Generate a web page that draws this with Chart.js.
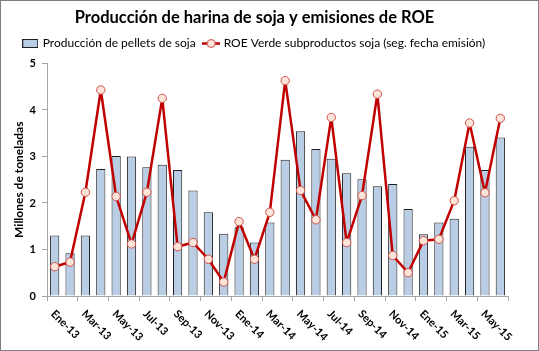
<!DOCTYPE html>
<html><head><meta charset="utf-8">
<script src="https://cdn.jsdelivr.net/npm/chart.js@4.4.0/dist/chart.umd.min.js"></script>
<style>
html,body{margin:0;padding:0;background:#fff;}
#wrap{position:absolute;left:0;top:0;width:539px;height:351px;box-sizing:border-box;border:1px solid #7f7f7f;background:#fff;}
canvas{display:block;}
</style></head><body>
<div id="wrap"><canvas id="c" width="537" height="349"></canvas></div>
<script>
const categories = ["Ene-13","Feb-13","Mar-13","Abr-13","May-13","Jun-13","Jul-13","Ago-13","Sep-13","Oct-13","Nov-13","Dic-13",
  "Ene-14","Feb-14","Mar-14","Abr-14","May-14","Jun-14","Jul-14","Ago-14","Sep-14","Oct-14","Nov-14","Dic-14",
  "Ene-15","Feb-15","Mar-15","Abr-15","May-15","Jun-15"];
const pelletsProduccion = [1.30,0.92,1.30,2.73,3.01,3.00,2.77,2.82,2.71,2.27,1.80,1.34,1.48,1.15,1.58,
  2.93,3.54,3.16,2.95,2.64,2.51,2.36,2.41,1.87,1.33,1.58,1.66,3.21,2.71,3.41];
const roeVerde = [0.63,0.73,2.23,4.43,2.14,1.12,2.23,4.25,1.06,1.15,0.79,0.30,1.60,0.79,1.80,
  4.63,2.27,1.64,3.84,1.15,2.16,4.34,0.87,0.50,1.19,1.22,2.05,3.72,2.22,3.82];
const yTicks = [0,1,2,3,4,5];
const seriesNames = ["Producción de pellets de soja","ROE Verde subproductos soja (seg. fecha emisión)"];
const chartTitle = "Producción de harina de soja y emisiones de ROE";
const yTitle = "Millones de toneladas";

const FONT = "Lato";
const barFill = "#B9CDE5", barBorder = "#202020";
const lineColor = "#C00000", ptFill = "#FDE4D8", ptBorder = "#D0504D";

function makeBarSym(){const c=document.createElement('canvas');c.width=16;c.height=9;const x=c.getContext('2d');
  x.fillStyle=barFill;x.fillRect(0.5,0.5,15,8);x.strokeStyle=barBorder;x.lineWidth=1;x.strokeRect(0.5,0.5,15,8);return c;}
function makeLineSym(){const c=document.createElement('canvas');c.width=18;c.height=11;const x=c.getContext('2d');
  x.strokeStyle=lineColor;x.lineWidth=2.5;x.beginPath();x.moveTo(0,5.5);x.lineTo(18,5.5);x.stroke();
  x.beginPath();x.arc(9,5.5,4,0,Math.PI*2);x.fillStyle=ptFill;x.fill();x.strokeStyle=ptBorder;x.lineWidth=1;x.stroke();return c;}
const syms=[makeBarSym(),makeLineSym()];

const xLabelPlugin = {
  id:'xLabels',
  afterDraw(chart){
    const xs = chart.scales.x, ctx = chart.ctx;
    ctx.save();
    ctx.font = "bold 11px " + FONT;
    ctx.fillStyle = "#000";
    ctx.textAlign = "left"; ctx.textBaseline = "middle";
    categories.forEach((lab,i)=>{
      if (i % 2) return;
      const x = xs.getPixelForValue(i);
      ctx.save();
      ctx.translate(x - 2, xs.top + 16);
      ctx.rotate(Math.PI/4);
      ctx.fillText(lab, 0, 0);
      ctx.restore();
    });
    ctx.restore();
  }
};

new Chart(document.getElementById('c'), {
  data: {
    labels: categories,
    datasets: [
      { type:'line', label: seriesNames[1], data: roeVerde, borderColor: lineColor, borderWidth: 2.5,
        borderJoinStyle:'round', borderCapStyle:'round',
        pointRadius: 4.2, pointBackgroundColor: ptFill, pointBorderColor: ptBorder, pointBorderWidth: 1,
        tension: 0, order: 0 },
      { type:'bar', label: seriesNames[0], data: pelletsProduccion, backgroundColor: barFill, borderColor: barBorder,
        borderWidth: 1, categoryPercentage: 1.0, barPercentage: 0.6, order: 1 }
    ]
  },
  options: {
    responsive:false, animation:false,
    layout:{ padding:{ left:0, right:30, top:3, bottom:0 } },
    plugins:{
      title:{ display:true, text: chartTitle, color:'#000', font:{ family:FONT, size:16.5, weight:'bold', lineHeight:1.24 }, padding:{top:3,bottom:1} },
      subtitle:{ display:true, text:'', weight:500, font:{ size:1, lineHeight:1 }, padding:{top:3,bottom:0} },
      legend:{ display:true, position:'top',
        labels:{ usePointStyle:true, pointStyleWidth:13, color:'#000', font:{ family:FONT, size:12 }, padding:9,
          generateLabels(){ return [
            { text: seriesNames[0], pointStyle: syms[0], fillStyle: barFill, strokeStyle: barBorder, lineWidth:0, hidden:false, datasetIndex:1 },
            { text: seriesNames[1], pointStyle: syms[1], fillStyle: ptFill, strokeStyle: lineColor, lineWidth:0, hidden:false, datasetIndex:0 }
          ]; } } },
      tooltip:{ enabled:false }
    },
    scales:{
      x:{ type:'category', offset:true,
        grid:{ offset:true, drawOnChartArea:false, drawTicks:true, tickLength:5,
          color:(c)=> (c.index === undefined || c.index % 2 === 0) ? '#A6A6A6' : 'rgba(0,0,0,0)' },
        border:{ display:true, color:'#A6A6A6', width:1 },
        ticks:{ display:false, autoSkip:false },
        afterFit(s){ s.height = 54; }
      },
      y:{ min:0, max:5,
        afterBuildTicks(s){ s.ticks = yTicks.map(v=>({value:v})); },
        grid:{ drawOnChartArea:false, drawTicks:true, tickLength:5, color:'#A6A6A6' },
        border:{ display:true, color:'#A6A6A6', width:1 },
        ticks:{ color:'#000', font:{ family:FONT, size:11, weight:'bold' }, padding:6 },
        title:{ display:true, text: yTitle, color:'#000', font:{ family:FONT, size:12, weight:'bold' }, padding:{top:11,bottom:0} },
        afterFit(s){ s.width = 46; }
      }
    }
  },
  plugins:[xLabelPlugin]
});
</script>
</body></html>
